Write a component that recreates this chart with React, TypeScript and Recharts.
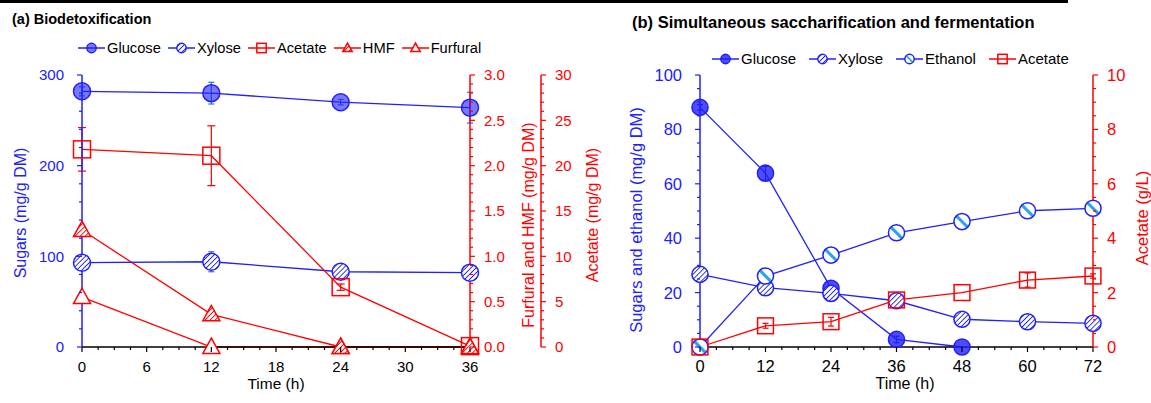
import React from "react";
import { LineChart, Line, XAxis, YAxis, ErrorBar } from "recharts";

const BLUE = "#2020ff";
const RED = "#ff0000";
const CYAN = "#2aa6e6";
const FONT = "Arial, 'Liberation Sans', sans-serif";

// (a) Biodetoxification
const timeA = [0, 12, 24, 36];
const glucoseA = [282, 280, 270, 264];
const glucoseAErr = [5, 12, 3, 17];
const xyloseA = [93, 94, 83, 82];
const xyloseAErr = [2, 11, 2, 2];
const acetateA = [21.8, 21.1, 6.6, 0.1];
const acetateAErr = [2.4, 3.3, 0.35, 0];
const hmfA = [1.29, 0.36, 0, 0];
const furfuralA = [0.55, 0, 0, 0];
const legendA = ["Glucose", "Xylose", "Acetate", "HMF", "Furfural"];

// (b) Simultaneous saccharification and fermentation
const timeB = [0, 12, 24, 36, 48, 60, 72];
const glucoseB = [88.1, 63.9, 21.6, 2.8, 0, null, null];
const glucoseBErr = [1, 2.5, 1, 1.2, 0, null, null];
const xyloseB = [26.7, 21.8, 19.7, 17.0, 10.2, 9.3, 8.7];
const ethanolB = [0, 26.1, 33.8, 42.0, 46.1, 50.1, 51.0];
const acetateB = [0, 0.78, 0.93, 1.73, 2.0, 2.46, 2.61];
const acetateBErr = [0, 0.09, 0.16, 0.22, 0, 0.26, 0.08];
const legendB = ["Glucose", "Xylose", "Ethanol", "Acetate"];

const dataA = timeA.map((t, i) => ({
  t,
  glucose: glucoseA[i],
  glucoseErr: glucoseAErr[i],
  xylose: xyloseA[i],
  xyloseErr: xyloseAErr[i],
  acetate: acetateA[i],
  acetateErr: acetateAErr[i],
  hmf: hmfA[i],
  furfural: furfuralA[i],
}));

const dataB = timeB.map((t, i) => ({
  t,
  glucose: glucoseB[i],
  glucoseErr: glucoseBErr[i],
  xylose: xyloseB[i],
  ethanol: ethanolB[i],
  acetate: acetateB[i],
  acetateErr: acetateBErr[i],
}));

const range = (a: number, b: number, s: number) => {
  const out: number[] = [];
  for (let i = 0; a + i * s <= b + 1e-9; i++) out.push(+(a + i * s).toFixed(4));
  return out;
};
const isMult = (v: number, s: number) => Math.abs(v / s - Math.round(v / s)) < 1e-6;

function makeTick(side: string, step: number, color: string, textColor: string, digits = 0, fs = 15) {
  return (props: any) => {
    const { x, y, payload } = props;
    const v = Number(payload.value);
    const major = isMult(v, step);
    const len = major ? 5 : 3;
    const label = major ? v.toFixed(digits) : null;
    if (side === "bottom") {
      return (
        <g>
          <line x1={x} y1={y} x2={x} y2={y + len} stroke={color} strokeWidth={1.2} />
          {label !== null && (
            <text x={x} y={y + 25} textAnchor="middle" fill={textColor} fontSize={fs} fontFamily={FONT}>
              {label}
            </text>
          )}
        </g>
      );
    }
    const dir = side === "left" ? -1 : 1;
    return (
      <g>
        <line x1={x} y1={y} x2={x + dir * len} y2={y} stroke={color} strokeWidth={1.2} />
        {label !== null && (
          <text
            x={x + dir * (side === "left" ? 18 : 14)}
            y={y}
            dy="0.36em"
            textAnchor={side === "left" ? "end" : "start"}
            fill={textColor}
            fontSize={fs}
            fontFamily={FONT}
          >
            {label}
          </text>
        )}
      </g>
    );
  };
}

function marker(kind: string, cx: number, cy: number, s: number, key?: any) {
  const r = 8.5 * s;
  switch (kind) {
    case "glcA":
      return <circle key={key} cx={cx} cy={cy} r={r} fill={BLUE} fillOpacity={0.6} stroke={BLUE} strokeWidth={1.5} />;
    case "glcB":
      return <circle key={key} cx={cx} cy={cy} r={r} fill={BLUE} fillOpacity={0.8} stroke={BLUE} strokeWidth={1.5} />;
    case "xyl":
      return <circle key={key} cx={cx} cy={cy} r={r} fill="url(#hatchBlue)" stroke={BLUE} strokeWidth={1.5} />;
    case "eth": {
      const d = r * 0.72;
      return (
        <g key={key}>
          <circle cx={cx} cy={cy} r={r} fill="#fff" />
          <line x1={cx - d} y1={cy - d} x2={cx + d} y2={cy + d} stroke={CYAN} strokeWidth={3.2 * s} />
          <circle cx={cx} cy={cy} r={r} fill="none" stroke={BLUE} strokeWidth={1.5} />
        </g>
      );
    }
    case "sq":
      return <rect key={key} x={cx - r} y={cy - r} width={2 * r} height={2 * r} fill="none" stroke={RED} strokeWidth={1.5} />;
    case "triH":
    case "triF": {
      const h = 8.5 * s;
      const pts = `${cx},${cy - h * 1.05} ${cx - h},${cy + h * 0.75} ${cx + h},${cy + h * 0.75}`;
      return (
        <polygon
          key={key}
          points={pts}
          fill={kind === "triH" ? "url(#hatchRed)" : "#fff"}
          stroke={RED}
          strokeWidth={1.5}
          strokeLinejoin="miter"
        />
      );
    }
  }
  return <g key={key} />;
}

const dot = (kind: string, s = 1) => (p: any) =>
  p.cy == null || p.value == null ? <g key={p.index} /> : marker(kind, p.cx, p.cy, s, p.index);

function LegendRow({ names, kinds, colors, left, top, fs, gap }: any) {
  return (
    <div
      style={{
        position: "absolute",
        left,
        top,
        display: "flex",
        alignItems: "center",
        fontFamily: FONT,
        fontSize: fs,
        lineHeight: "16px",
        whiteSpace: "nowrap",
        color: "#000",
      }}
    >
      {names.map((n: string, i: number) => (
        <div key={n} style={{ display: "flex", alignItems: "center", marginRight: gap }}>
          <svg width={27} height={16}>
            <line x1={0} y1={8} x2={27} y2={8} stroke={colors[i]} strokeWidth={1.5} />
            {marker(kinds[i], 13.5, 8, 0.55)}
          </svg>
          <span style={{ marginLeft: 2 }}>{n}</span>
        </div>
      ))}
    </div>
  );
}

function VText({ x, y, color, fs = 16, children }: any) {
  return (
    <text
      x={x}
      y={y}
      transform={`rotate(-90 ${x} ${y})`}
      textAnchor="middle"
      dominantBaseline="central"
      fill={color}
      fontSize={fs}
      fontFamily={FONT}
    >
      {children}
    </text>
  );
}

export default function App() {
  const lw = 1.3;
  const fsB = 16.5;
  return (
    <div style={{ position: "absolute", left: 0, top: 0, width: 1151, height: 403, background: "#fff", overflow: "hidden" }}>
      <svg width={0} height={0} style={{ position: "absolute" }}>
        <defs>
          <pattern id="hatchBlue" width={3.6} height={3.6} patternUnits="userSpaceOnUse" patternTransform="rotate(45)">
            <rect width={3.6} height={3.6} fill="#fff" />
            <line x1={0} y1={0} x2={0} y2={3.6} stroke={BLUE} strokeWidth={1.8} />
          </pattern>
          <pattern id="hatchRed" width={3.6} height={3.6} patternUnits="userSpaceOnUse" patternTransform="rotate(45)">
            <rect width={3.6} height={3.6} fill="#fff" />
            <line x1={0} y1={0} x2={0} y2={3.6} stroke={RED} strokeWidth={1.8} />
          </pattern>
        </defs>
      </svg>

      <div style={{ position: "absolute", left: 0, top: 0, width: 1068, height: 3, background: "#000" }} />

      <div style={{ position: "absolute", left: 0, top: 0 }}>
        <LineChart width={600} height={403} data={dataA} margin={{ top: 75, right: 9, bottom: 26, left: 22 }}>
          <XAxis
            type="number"
            dataKey="t"
            domain={[0, 36]}
            ticks={range(0, 36, 1.5)}
            interval={0}
            height={30}
            tickSize={0}
            tickMargin={0}
            tickLine={false}
            axisLine={{ stroke: "#000", strokeWidth: 1.5 }}
            tick={makeTick("bottom", 6, "#000", "#000")}
          />
          <YAxis
            yAxisId="sug"
            domain={[0, 300]}
            ticks={range(0, 300, 20)}
            interval={0}
            width={60}
            tickSize={0}
            tickMargin={0}
            tickLine={false}
            axisLine={{ stroke: BLUE, strokeWidth: 1.5 }}
            tick={makeTick("left", 100, BLUE, BLUE)}
          />
          <YAxis
            yAxisId="r1"
            orientation="right"
            domain={[0, 3]}
            ticks={range(0, 3, 0.1)}
            interval={0}
            width={71}
            tickSize={0}
            tickMargin={0}
            tickLine={false}
            axisLine={{ stroke: RED, strokeWidth: 1.5 }}
            tick={makeTick("right", 0.5, RED, RED, 1)}
          />
          <YAxis
            yAxisId="r2"
            orientation="right"
            domain={[0, 30]}
            ticks={range(0, 30, 1)}
            interval={0}
            width={50}
            tickSize={0}
            tickMargin={0}
            tickLine={false}
            axisLine={{ stroke: RED, strokeWidth: 1.5 }}
            tick={makeTick("right", 5, RED, RED)}
          />
          <Line yAxisId="r1" dataKey="furfural" stroke={RED} strokeWidth={lw} dot={dot("triF")} isAnimationActive={false} />
          <Line yAxisId="r1" dataKey="hmf" stroke={RED} strokeWidth={lw} dot={dot("triH")} isAnimationActive={false} />
          <Line yAxisId="sug" dataKey="xylose" stroke={BLUE} strokeWidth={lw} dot={dot("xyl")} isAnimationActive={false}>
            <ErrorBar dataKey="xyloseErr" width={3} stroke="#2a6fd0" strokeWidth={1.2} direction="y" isAnimationActive={false} />
          </Line>
          <Line yAxisId="sug" dataKey="glucose" stroke={BLUE} strokeWidth={lw} dot={dot("glcA")} isAnimationActive={false}>
            <ErrorBar dataKey="glucoseErr" width={3} stroke="#2a6fd0" strokeWidth={1.2} direction="y" isAnimationActive={false} />
          </Line>
          <Line yAxisId="r2" dataKey="acetate" stroke={RED} strokeWidth={lw} dot={dot("sq")} isAnimationActive={false}>
            <ErrorBar dataKey="acetateErr" width={4} stroke={RED} strokeWidth={1.2} direction="y" isAnimationActive={false} />
          </Line>
        </LineChart>
      </div>

      <div style={{ position: "absolute", left: 600, top: 0 }}>
        <LineChart width={551} height={403} data={dataB} margin={{ top: 75, right: 8, bottom: 26, left: 40 }}>
          <XAxis
            type="number"
            dataKey="t"
            domain={[0, 72]}
            ticks={range(0, 72, 3)}
            interval={0}
            height={30}
            tickSize={0}
            tickMargin={0}
            tickLine={false}
            axisLine={{ stroke: "#000", strokeWidth: 1.5 }}
            tick={makeTick("bottom", 12, "#000", "#000", 0, fsB)}
          />
          <YAxis
            yAxisId="se"
            domain={[0, 100]}
            ticks={range(0, 100, 5)}
            interval={0}
            width={60}
            tickSize={0}
            tickMargin={0}
            tickLine={false}
            axisLine={{ stroke: BLUE, strokeWidth: 1.5 }}
            tick={makeTick("left", 20, BLUE, BLUE, 0, fsB)}
          />
          <YAxis
            yAxisId="ac"
            orientation="right"
            domain={[0, 10]}
            ticks={range(0, 10, 0.5)}
            interval={0}
            width={50}
            tickSize={0}
            tickMargin={0}
            tickLine={false}
            axisLine={{ stroke: RED, strokeWidth: 1.5 }}
            tick={makeTick("right", 2, RED, RED, 0, fsB)}
          />
          <Line yAxisId="se" dataKey="glucose" stroke={BLUE} strokeWidth={lw} dot={dot("glcB", 0.95)} isAnimationActive={false}>
            <ErrorBar dataKey="glucoseErr" width={3} stroke="#1a1a90" strokeWidth={1.2} direction="y" isAnimationActive={false} />
          </Line>
          <Line yAxisId="se" dataKey="xylose" stroke={BLUE} strokeWidth={lw} dot={dot("xyl", 0.95)} isAnimationActive={false} />
          <Line yAxisId="se" dataKey="ethanol" stroke={BLUE} strokeWidth={lw} dot={dot("eth", 0.95)} isAnimationActive={false} />
          <Line yAxisId="ac" dataKey="acetate" stroke={RED} strokeWidth={lw} dot={dot("sq", 0.93)} isAnimationActive={false}>
            <ErrorBar dataKey="acetateErr" width={3} stroke={RED} strokeWidth={1.2} direction="y" isAnimationActive={false} />
          </Line>
        </LineChart>
      </div>

      <svg width={1151} height={403} style={{ position: "absolute", left: 0, top: 0, pointerEvents: "none" }}>
        <text x={12} y={24} fontSize={14.5} fontWeight="bold" fontFamily={FONT} fill="#000">
          (a) Biodetoxification
        </text>
        <text x={632} y={28} fontSize={16.5} fontWeight="bold" fontFamily={FONT} fill="#000">
          (b) Simultaneous saccharification and fermentation
        </text>
        <VText x={20} y={213} color={BLUE}>Sugars (mg/g DM)</VText>
        <VText x={528} y={225} color={RED}>Furfural and HMF (mg/g DM)</VText>
        <VText x={592} y={215} color={RED}>Acetate (mg/g DM)</VText>
        <VText x={636} y={220} color={BLUE} fs={fsB}>Sugars and ethanol (mg/g DM)</VText>
        <VText x={1142} y={218} color={RED} fs={fsB}>Acetate (g/L)</VText>
        <text x={276} y={383} dy="0.36em" textAnchor="middle" fontSize={15.5} fontFamily={FONT} fill="#000">
          Time (h)
        </text>
        <text x={905} y={383} dy="0.36em" textAnchor="middle" fontSize={16} fontFamily={FONT} fill="#000">
          Time (h)
        </text>
      </svg>

      <LegendRow
        names={legendA}
        kinds={["glcA", "xyl", "sq", "triH", "triF"]}
        colors={[BLUE, BLUE, RED, RED, RED]}
        left={78}
        top={40}
        fs={14.7}
        gap={7}
      />
      <LegendRow
        names={legendB}
        kinds={["glcB", "xyl", "eth", "sq"]}
        colors={[BLUE, BLUE, BLUE, RED]}
        left={712}
        top={51}
        fs={15}
        gap={13}
      />
    </div>
  );
}
